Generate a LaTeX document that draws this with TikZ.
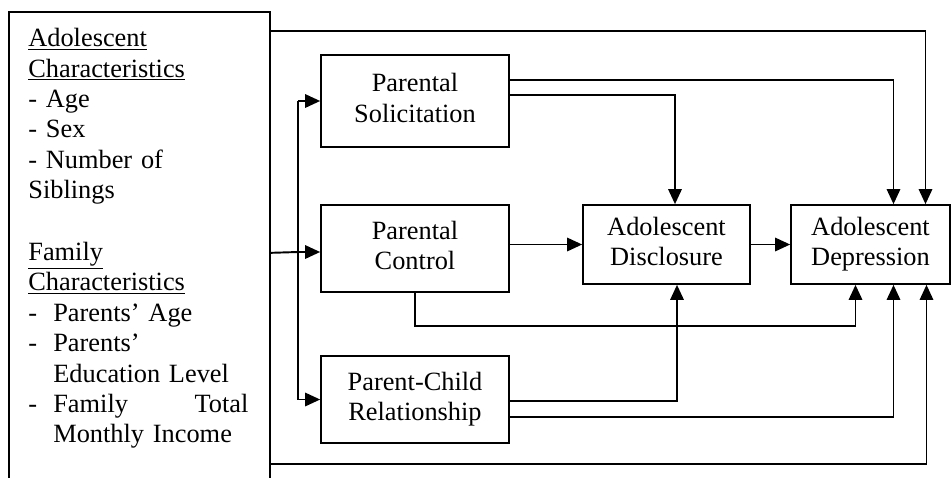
\documentclass[tikz,border=0pt]{standalone}
\usepackage{fontspec}
\setmainfont{Liberation Serif}
\usetikzlibrary{arrows.meta}

\begin{document}
\begin{tikzpicture}[x=0.02cm, y=-0.02cm,
    varbox/.style={rectangle, draw=black, line width=1pt, align=center, inner sep=0pt},
    link/.style={line width=0.9pt, -{Triangle[length=0.3cm, width=0.27cm]}},
    font=\fontsize{15}{17.3}\selectfont]
    % Fix the frame of the figure.
    \useasboundingbox (0,0) rectangle (952,477);
    \clip (0,0) rectangle (952,477);
    % Draw the box of the background variables, which runs off the bottom.
    \node[varbox, anchor=north west, minimum width=5.22cm, minimum height=9.64cm] (bg) at (8,11) {};
    \node[anchor=north west, inner sep=0pt, text width=4.4cm, align=left] (bgtext) at (28,28) {%
      \underline{Adolescent}\\
      \underline{Characteristics}\\
      - Age\\
      - Sex\\
      - Number of\\
      Siblings\\[0.63cm]
      \underline{Family}\\
      \underline{Characteristics}\\
      \makebox[0.5cm][l]{-}Parents' Age\\
      \makebox[0.5cm][l]{-}Parents'\\
      \hspace*{0.5cm}Education Level\\
      \makebox[0.5cm][l]{-}Family\hfill Total\\
      \hspace*{0.5cm}Monthly Income};
    % Draw the parenting variables and the two adolescent outcomes.
    \node[varbox, minimum width=3.76cm, minimum height=1.84cm] (sol) at (415,101) {\strut Parental\\Solicitation\strut};
    \node[varbox, minimum width=3.76cm, minimum height=1.74cm] (ctl) at (415,248.5) {\strut Parental\\Control\strut};
    \node[varbox, minimum width=3.76cm, minimum height=1.74cm] (pcr) at (415,399.5) {\strut Parent-Child\\Relationship\strut};
    \node[varbox, minimum width=3.34cm, minimum height=1.58cm] (dis) at (666.5,244.5) {\strut Adolescent\\Disclosure\strut};
    \node[varbox, minimum width=3.18cm, minimum height=1.58cm] (dep) at (870.5,244.5) {\strut Adolescent\\Depression\strut};
    % Split the background variables into the three parenting variables.
    \coordinate (fork) at (298,252);
    \draw[line width=1.1pt] (bg.east) -- (fork);
    \draw[link] (fork) -- (ctl.west |- fork);
    \draw[line width=0.9pt] (fork |- sol.west) -- (fork |- pcr.west);
    \draw[link] (fork |- sol.west) -- (sol.west);
    \draw[link] (fork |- pcr.west) -- (pcr.west);
    % Direct paths into depression.
    \draw[link] ([yshift=-0.4cm]bg.north east) -| ([xshift=1.1cm]dep.north);
    \draw[link] ([yshift=0.42cm]sol.east) -| ([xshift=0.46cm]dep.north);
    \draw[link] (ctl.south) -- ++(0,33) -| ([xshift=-0.3cm]dep.south);
    \draw[link] ([yshift=-0.35cm]pcr.east) -| ([xshift=0.46cm]dep.south);
    \draw[link] ([yshift=-4.22cm]bg.east) -| ([xshift=1.12cm]dep.south);
    % Paths through disclosure.
    \draw[link] ([yshift=0.12cm]sol.east) -| ([xshift=0.17cm]dis.north);
    \draw[link] (ctl.east |- dis.west) -- (dis.west);
    \draw[link] (dis.east) -- (dep.west);
    \draw[link] ([yshift=-0.03cm]pcr.east) -| ([xshift=0.21cm]dis.south);
  \end{tikzpicture}
\end{document}
